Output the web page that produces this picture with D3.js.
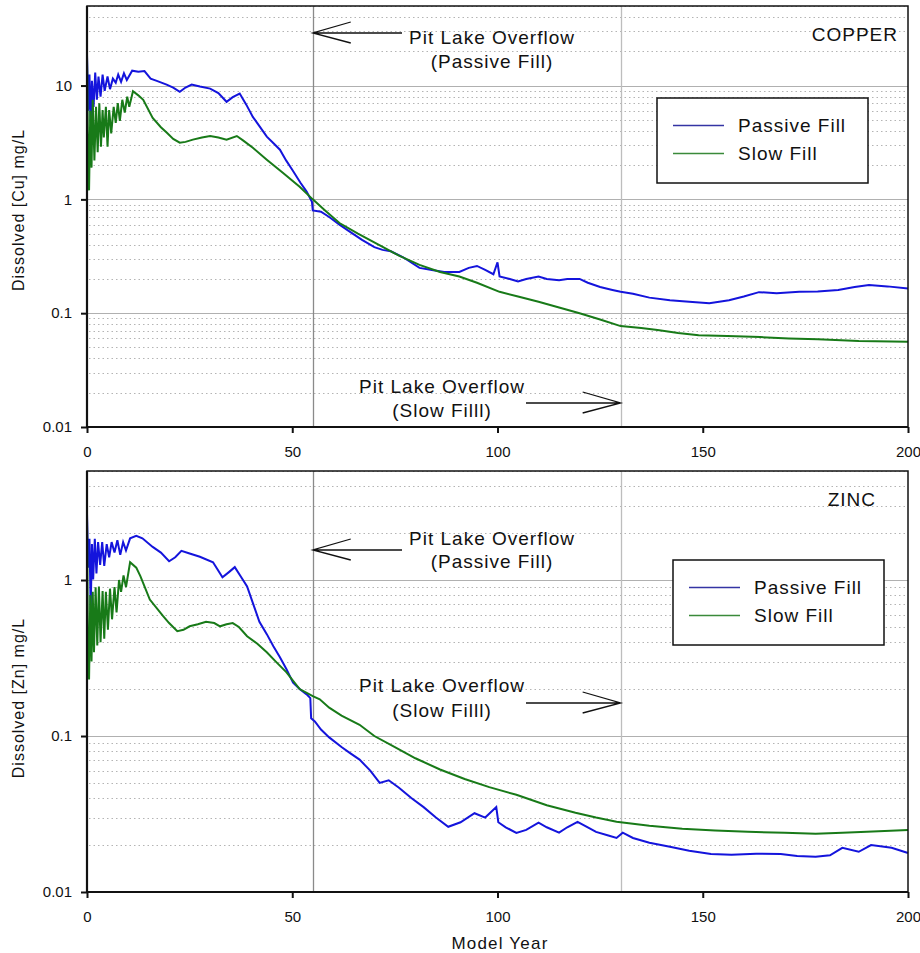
<!DOCTYPE html>
<html>
<head>
<meta charset="utf-8">
<script src="https://cdn.jsdelivr.net/npm/d3@7"></script>
<style>
  body { margin: 0; background: #fff; }
  svg { display: block; font-family: "Liberation Sans", Arial, sans-serif; }
  .tickLabel { font-size: 15px; fill: #111; }
  .note { font-size: 19px; letter-spacing: 1px; fill: #111; }
</style>
</head>
<body>
<svg width="920" height="953"></svg>
<script>
// [model year, dissolved mg/L]
const cuPassive = [[0,18.7],[0.3,6],[0.6,12.5],[0.9,4.7],[1.2,11],[1.6,6.5],[2,13],[2.4,7.5],[2.8,12],[3.3,8],[3.8,12.5],[4.3,9],[5,12],[5.6,9.3],[6.3,11.5],[7,10.6],[7.6,12.5],[8.3,10.8],[9,12.8],[9.7,11.2],[11,13.5],[12.5,13.2],[14,13.4],[15.5,11.5],[17,11],[19.4,10.2],[21,9.6],[22.6,8.8],[24,9.6],[25.5,10.2],[27.5,9.8],[30,9.4],[32,8.6],[34,7.2],[35.5,7.9],[37.2,8.5],[38.8,6.8],[40.4,5.3],[42,4.4],[43.8,3.56],[45.5,3.1],[47,2.73],[48.5,2.2],[50,1.82],[52,1.4],[53.5,1.17],[54.8,0.95],[55,0.8],[57,0.78],[59,0.7],[61.5,0.6],[64,0.52],[67,0.44],[70,0.38],[72,0.36],[74,0.35],[77,0.31],[81,0.25],[84,0.24],[87,0.23],[90.7,0.23],[93,0.25],[95,0.26],[97,0.24],[99,0.22],[100,0.28],[100.5,0.21],[103,0.2],[105,0.19],[107,0.2],[110,0.21],[112,0.2],[115,0.195],[117,0.2],[120,0.2],[122,0.185],[125,0.17],[128,0.16],[130,0.154],[133,0.148],[137,0.137],[142,0.13],[146.7,0.126],[151.6,0.122],[156.4,0.13],[160,0.14],[163.7,0.153],[168,0.15],[173.5,0.154],[178,0.155],[183,0.16],[187,0.17],[190.5,0.177],[195,0.172],[200,0.165]]
const cuSlow = [[0,18],[0.2,4],[0.5,1.2],[0.8,6],[1.1,1.9],[1.4,7.5],[1.8,2.2],[2.2,6.5],[2.6,2.6],[3,7],[3.4,2.9],[3.8,6.1],[4.1,3.5],[4.6,6.5],[5,2.9],[5.4,6.1],[5.9,3.8],[6.5,6.5],[7,4.7],[7.5,7],[8,4.9],[8.6,7.5],[9.2,5.8],[9.8,8],[10.3,6.5],[11.2,8.9],[12.5,8.2],[13.7,7.5],[16,5.2],[18,4.3],[19.4,3.86],[21,3.4],[22.6,3.15],[24,3.2],[25.8,3.35],[28,3.5],[30,3.6],[32,3.5],[34,3.35],[36.5,3.6],[38,3.3],[40.4,2.84],[43.8,2.23],[47.7,1.71],[51.8,1.29],[55,1.0],[58,0.8],[61.5,0.62],[66,0.5],[71,0.4],[76,0.32],[81,0.266],[86,0.23],[90.7,0.21],[95,0.185],[100.5,0.154],[105,0.14],[110,0.126],[115,0.112],[120,0.1],[125,0.088],[130,0.077],[135,0.074],[139,0.071],[144,0.067],[149,0.064],[156,0.063],[164,0.0617],[171,0.06],[178,0.059],[188,0.057],[200,0.056]]
const znPassive = [[0,2.66],[0.3,1.2],[0.6,1.84],[0.9,0.65],[1.2,1.7],[1.5,1.01],[1.9,1.84],[2.3,1.1],[2.7,1.75],[3.2,1.25],[3.7,1.75],[4.2,1.23],[4.8,1.7],[5.4,1.4],[6,1.75],[6.7,1.5],[7.4,1.8],[8.1,1.45],[8.8,1.75],[9.5,1.55],[10.5,1.85],[12,1.92],[13.5,1.85],[16,1.63],[18,1.5],[20,1.32],[21.5,1.4],[23,1.54],[25,1.48],[27.5,1.41],[30.7,1.3],[33,1.04],[34.5,1.12],[36,1.21],[37.5,1.05],[39,0.91],[40.5,0.7],[42,0.54],[43.8,0.45],[45.4,0.376],[47,0.32],[48.6,0.268],[50.2,0.22],[51.8,0.2],[53.5,0.185],[54.4,0.175],[54.6,0.13],[55.5,0.124],[57,0.11],[59,0.098],[62,0.085],[64,0.078],[66.4,0.0706],[69,0.06],[71.3,0.05],[73.5,0.052],[76,0.0466],[79,0.04],[82,0.035],[85,0.03],[88,0.0262],[91,0.028],[94.4,0.032],[97,0.03],[99.7,0.035],[100.2,0.028],[102,0.026],[104.6,0.0239],[107,0.025],[110,0.0278],[112,0.026],[115,0.024],[117,0.026],[119.5,0.0282],[122,0.026],[124,0.0243],[127,0.023],[129,0.0222],[130.5,0.024],[133,0.0222],[137,0.0207],[142,0.0195],[146.7,0.0184],[152,0.0175],[157,0.0173],[163,0.0176],[169,0.0175],[173,0.017],[177.5,0.0168],[181,0.0172],[184,0.0192],[188,0.0181],[191,0.02],[196,0.0192],[200,0.0178]]
const znSlow = [[0,2.5],[0.2,0.5],[0.5,0.23],[0.8,0.8],[1.1,0.3],[1.4,0.84],[1.7,0.345],[2.1,0.9],[2.5,0.38],[2.9,0.91],[3.3,0.4],[3.8,0.85],[4.2,0.42],[4.6,0.84],[5.1,0.48],[5.6,0.88],[6.1,0.56],[6.7,0.9],[7.2,0.62],[7.8,1.0],[8.3,0.84],[8.9,1.07],[9.5,0.9],[10.5,1.3],[12,1.2],[13,1.06],[15.3,0.75],[18.5,0.59],[20,0.53],[22,0.47],[23.5,0.48],[25,0.505],[27,0.52],[29,0.54],[31,0.53],[32.4,0.505],[34,0.52],[35.5,0.53],[37,0.5],[39,0.436],[41.5,0.39],[43.8,0.344],[46,0.3],[48.6,0.256],[51.8,0.2],[55,0.18],[56.7,0.172],[59,0.152],[62,0.135],[66.4,0.118],[70,0.1],[75,0.085],[80,0.072],[86,0.061],[92,0.053],[98,0.047],[104.6,0.042],[112,0.036],[119,0.0322],[124,0.03],[129,0.0282],[137,0.0266],[145,0.0254],[153,0.0248],[161,0.0243],[170,0.024],[177.5,0.0236],[184,0.024],[190,0.0243],[200,0.025]]

const xTicks = [0, 50, 100, 150, 200]
const overflowYears = [55, 130] // passive fill, slow fill
const seriesNames = ['Passive Fill', 'Slow Fill']
const colors = ['#1414dc', '#187a18']
const legendColors = ['#3434a4', '#3a8a3a']

const panels = [
  { name: 'COPPER', ion: 'Cu', passive: cuPassive, slow: cuSlow, yMax: 50, yTicks: [0.01, 0.1, 1, 10],
    top: 6, bottom: 427, yTitle: 210, nameX: 898,
    notes: { passive: [33, 44, 68], slow: [403, 393, 417] }, legend: [657, 98] },
  { name: 'ZINC', ion: 'Zn', passive: znPassive, slow: znSlow, yMax: 5, yTicks: [0.01, 0.1, 1],
    top: 471, bottom: 892, yTitle: 698, nameX: 876,
    notes: { passive: [550, 545, 568], slow: [703, 692, 717] }, legend: [673, 560] }
]

const svg = d3.select('svg')
const left = 87, right = 908
const xScale = d3.scaleLinear().domain([0, 200]).range([left, right])

panels.forEach((p) => drawPanel(p))

svg.append('text') // shared x title
  .attr('x', 500).attr('y', 949)
  .attr('text-anchor', 'middle')
  .attr('font-size', 17).attr('letter-spacing', 1.2)
  .attr('fill', '#111')
  .text('Model Year')


function drawPanel (p) {
  const yScale = d3.scaleLog().domain([0.01, p.yMax]).range([p.bottom, p.top])
  drawGrid(p, yScale)
  drawOverflowLines(p)
  drawSeries(p, yScale)
  drawFrame(p, yScale)
  drawNotes(p)
  drawLegend(p)
}


function drawGrid (p, yScale) {
  const minor = []
  for (let d = 0.01; d < p.yMax; d *= 10) {
    for (let k = 2; k <= 9; k++) if (d * k <= p.yMax) minor.push(d * k)
  }
  svg.append('g').selectAll('line')
    .data(minor)
    .join('line')
      .attr('x1', left + 2).attr('x2', right)
      .attr('y1', (d) => Math.round(yScale(d)) + 0.5)
      .attr('y2', (d) => Math.round(yScale(d)) + 0.5)
      .attr('stroke', '#b4b4b4')
      .attr('stroke-dasharray', '1.5,3')

  svg.append('g').selectAll('line')
    .data(p.yTicks.slice(1))
    .join('line')
      .attr('x1', left).attr('x2', right)
      .attr('y1', (d) => Math.round(yScale(d)) + 0.5)
      .attr('y2', (d) => Math.round(yScale(d)) + 0.5)
      .attr('stroke', '#b0b0b0')
}


function drawOverflowLines (p) {
  svg.append('g').selectAll('line')
    .data(overflowYears)
    .join('line')
      .attr('x1', (d) => Math.round(xScale(d)) + 0.5)
      .attr('x2', (d) => Math.round(xScale(d)) + 0.5)
      .attr('y1', p.top).attr('y2', p.bottom)
      .attr('stroke', (d, i) => i === 0 ? '#8a8a8a' : '#bdbdbd')
      .attr('stroke-width', 1.3)
}


function drawSeries (p, yScale) {
  const line = d3.line()
    .x((d) => xScale(d[0]))
    .y((d) => yScale(d[1]))

  svg.append('g').selectAll('path')
    .data([p.passive, p.slow])
    .join('path')
      .attr('d', line)
      .attr('fill', 'none')
      .attr('stroke', (d, i) => colors[i])
      .attr('stroke-width', 2)
      .attr('stroke-linejoin', 'miter')
}


function drawFrame (p, yScale) {
  svg.append('rect') // top / right edges
    .attr('x', left).attr('y', p.top)
    .attr('width', right - left).attr('height', p.bottom - p.top)
    .attr('fill', 'none').attr('stroke', '#111').attr('stroke-width', 1.5)

  const yAxis = svg.append('g')
    .attr('transform', `translate(${left},0)`)
    .call(d3.axisLeft(yScale).tickValues(p.yTicks).tickFormat((d) => String(d)).tickSize(6).tickPadding(9))
  const xAxis = svg.append('g')
    .attr('transform', `translate(0,${p.bottom})`)
    .call(d3.axisBottom(xScale).tickValues(xTicks).tickSize(6).tickPadding(13))

  ;[yAxis, xAxis].forEach((a) => {
    a.select('.domain').attr('stroke', '#111').attr('stroke-width', 2.2)
    a.selectAll('.tick line').attr('stroke', '#111').attr('stroke-width', 2)
    a.selectAll('.tick text').attr('class', 'tickLabel').attr('font-family', null).attr('font-size', null)
  })
  xAxis.select('.domain').attr('d', `M${left},0H${right}`)
  yAxis.select('.domain').attr('d', `M0,${p.top}V${p.bottom}`)

  svg.append('text')
    .attr('transform', `translate(24,${p.yTitle}) rotate(-90)`)
    .attr('text-anchor', 'middle')
    .attr('font-size', 16).attr('letter-spacing', 1)
    .attr('fill', '#111')
    .text(`Dissolved [${p.ion}] mg/L`)

  svg.append('text')
    .attr('x', p.nameX)
    .attr('y', p.top + 35)
    .attr('text-anchor', 'end')
    .attr('class', 'note')
    .attr('font-size', 18)
    .text(p.name)
}


function drawNotes (p) {
  const notes = [
    { tip: xScale(overflowYears[0]), tail: 402, cx: 492, lines: ['Pit Lake Overflow', '(Passive Fill)'], pos: p.notes.passive },
    { tip: xScale(overflowYears[1]), tail: 526, cx: 442, lines: ['Pit Lake Overflow', '(Slow Filll)'], pos: p.notes.slow }
  ]
  notes.forEach((n) => {
    const [ay, y1, y2] = n.pos
    const g = svg.append('g')
    g.selectAll('text')
      .data(n.lines)
      .join('text')
        .attr('class', 'note')
        .attr('x', n.cx)
        .attr('y', (d, i) => i === 0 ? y1 : y2)
        .attr('text-anchor', 'middle')
        .text((d) => d)
    const dir = n.tip < n.tail ? 1 : -1
    g.append('path')
      .attr('d', `M${n.tail},${ay}H${n.tip}M${n.tip + dir * 38},${ay - 11}L${n.tip},${ay}L${n.tip + dir * 38},${ay + 10}`)
      .attr('fill', 'none')
      .attr('stroke', '#111')
      .attr('stroke-width', 1.3)
  })
}


function drawLegend (p) {
  const [lx, ly] = p.legend
  const g = svg.append('g').attr('transform', `translate(${lx},${ly})`)
  g.append('rect')
    .attr('width', 211).attr('height', 85)
    .attr('fill', '#fff').attr('stroke', '#111').attr('stroke-width', 1.5)
  seriesNames.forEach((name, i) => {
    g.append('line')
      .attr('x1', 16).attr('x2', 67)
      .attr('y1', 27.5 + i * 28).attr('y2', 27.5 + i * 28)
      .attr('stroke', legendColors[i]).attr('stroke-width', 1.5)
    g.append('text')
      .attr('class', 'note')
      .attr('x', 81).attr('y', 34 + i * 28)
      .text(name)
  })
}
</script>
</body>
</html>
